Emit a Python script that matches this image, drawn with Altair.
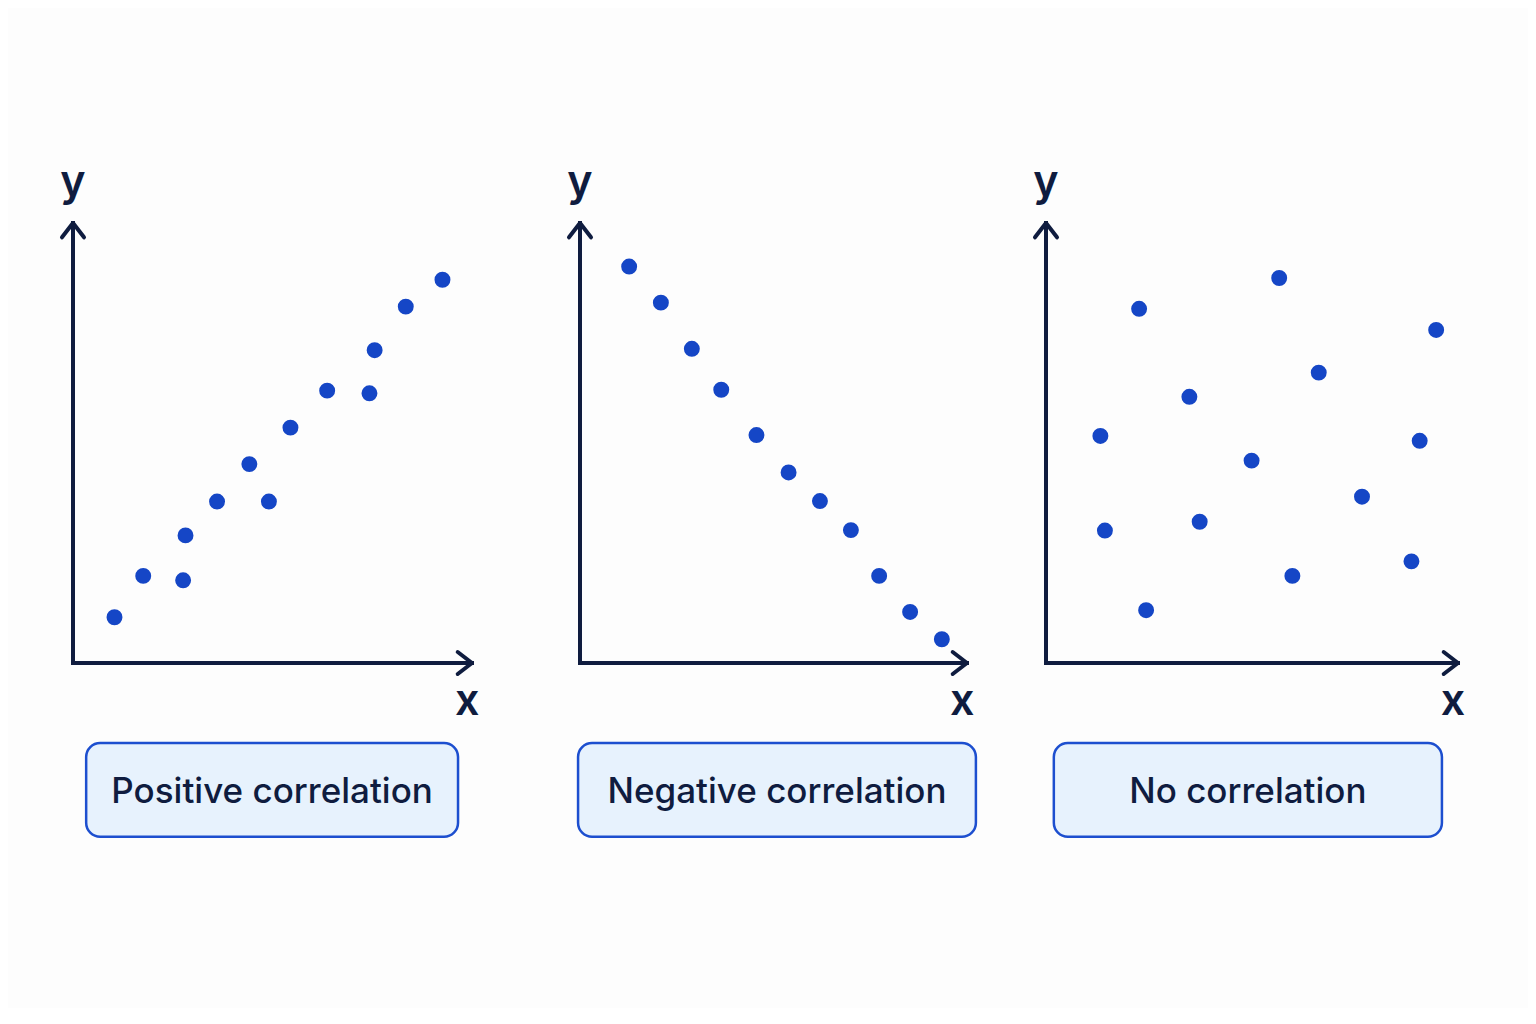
import altair as alt
import pandas as pd

# values, axis units 0..10 (10 = arrow tip)
pos_x = [1.04, 1.76, 2.76, 2.82, 3.61, 4.42, 4.91, 5.45, 6.37, 7.43, 7.56, 8.34, 9.26]
pos_y = [1.04, 1.98, 1.88, 2.90, 3.67, 4.52, 3.67, 5.35, 6.19, 6.13, 7.11, 8.10, 8.71]

neg_x = [1.27, 2.09, 2.89, 3.65, 4.56, 5.39, 6.20, 7.00, 7.73, 8.53, 9.35]
neg_y = [9.01, 8.19, 7.14, 6.21, 5.18, 4.33, 3.68, 3.02, 1.98, 1.16, 0.54]

none_x = [1.32, 1.43, 2.26, 2.43, 3.48, 3.73, 4.99, 5.66, 5.98, 6.62, 7.67, 8.87, 9.07, 9.47]
none_y = [5.16, 3.01, 8.05, 1.20, 6.05, 3.21, 4.60, 8.75, 1.98, 6.60, 3.78, 2.31, 5.05, 7.57]

labels = ["Positive correlation", "Negative correlation", "No correlation"]

NAVY = "#0f1c3f"
DOT = "#1546c6"
BOX_FILL = "#e7f2fd"
BOX_STROKE = "#1d4fcf"
BG = "#fdfdfd"
FONT = "Inter"

# layout: panel width, origin offset (px) and pixels per x unit
H = 1000
Y_ORIGIN = 655   # px from top of view
Y_UNIT = 44.0
CHEVRON = "M-1.3,-1L0,0L-1.3,1"


def panel(xs, ys, label, width, x_origin, x_unit, box_x0, box_x1):
    xdom = [-x_origin / x_unit, (width - x_origin) / x_unit]
    ydom = [-(H - Y_ORIGIN) / Y_UNIT, Y_ORIGIN / Y_UNIT]
    sx = alt.Scale(domain=xdom, nice=False, zero=False)
    sy = alt.Scale(domain=ydom, nice=False, zero=False)

    def X(f):
        return alt.X(f, type="quantitative", scale=sx, axis=None)

    def Y(f):
        return alt.Y(f, type="quantitative", scale=sy, axis=None)

    axes = pd.DataFrame({"x": [0, 0], "y": [0, 0], "x2": [10, 0], "y2": [0, 10]})
    rules = alt.Chart(axes).mark_rule(
        color=NAVY, strokeWidth=4, strokeCap="square"
    ).encode(x=X("x"), y=Y("y"), x2="x2", y2="y2")

    tips = pd.DataFrame({"x": [10, 0], "y": [0, 10], "angle": [0, 270]})
    heads = alt.Chart(tips).mark_point(
        shape=CHEVRON, filled=False, size=484, stroke=NAVY, strokeWidth=4,
        strokeJoin="round", strokeCap="round", opacity=1,
    ).encode(x=X("x"), y=Y("y"), angle=alt.Angle("angle:Q", scale=None))

    letters = pd.DataFrame({"x": [0, 9.88], "y": [10.61, -1.18], "t": ["y", "x"]})
    axis_text = alt.Chart(letters).mark_text(
        font=FONT, fontSize=43, fontWeight=600, color=NAVY,
        align="center", baseline="alphabetic",
    ).encode(x=X("x"), y=Y("y"), text="t:N")

    pts = pd.DataFrame({"x": xs, "y": ys})
    dots = alt.Chart(pts).mark_circle(size=254, color=DOT, opacity=1).encode(
        x=X("x"), y=Y("y")
    )

    bx = pd.DataFrame({"x": [box_x0], "x2": [box_x1], "y": [-1.82], "y2": [-3.95],
                       "xm": [(box_x0 + box_x1) / 2], "ym": [-2.93], "t": [label]})
    box = alt.Chart(bx).mark_rect(
        cornerRadius=14, fill=BOX_FILL, stroke=BOX_STROKE, strokeWidth=2.5
    ).encode(x=X("x"), x2="x2", y=Y("y"), y2="y2")
    box_text = alt.Chart(bx).mark_text(
        font=FONT, fontSize=35, fontWeight=500, color=NAVY,
        align="center", baseline="middle",
    ).encode(x=X("xm"), y=Y("ym"), text="t:N")

    return alt.layer(rules, heads, axis_text, dots, box, box_text).properties(
        width=width, height=H
    )


p1 = panel(pos_x, pos_y, labels[0], 512, 65, 39.9, 0.33, 9.65)
p2 = panel(neg_x, neg_y, labels[1], 480, 60, 38.7, -0.05, 10.23)
p3 = panel(none_x, none_y, labels[2], 528, 46, 41.2, 0.19, 9.61)

chart = alt.hconcat(p1, p2, p3, spacing=0).properties(
    padding=0, background=BG
).configure_view(stroke=None)

chart.save("out.html", embed_options={"renderer": "svg", "actions": False})
